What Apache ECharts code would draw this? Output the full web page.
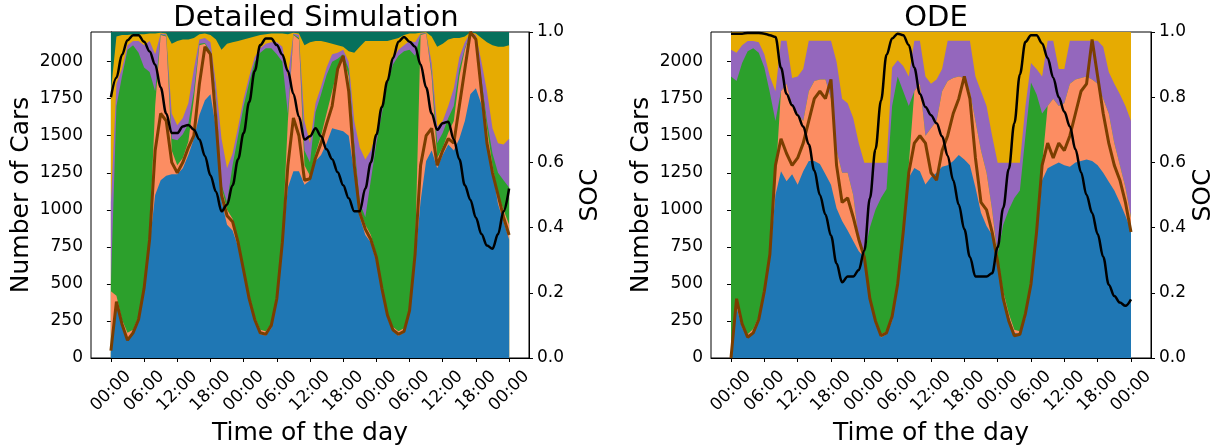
<!DOCTYPE html>
<html>
<head>
<meta charset="utf-8">
<title>Detailed Simulation vs ODE</title>
<script src="https://cdn.jsdelivr.net/npm/echarts@6/dist/echarts.min.js"></script>
<style>
  html, body { margin: 0; padding: 0; background: #fff; }
  #chart { width: 1215px; height: 446px; }
</style>
</head>
<body>
<div id="chart"></div>
<script>
// time axis in hours over three days
var HOURS = [0,1,2,3,4,5,6,7,8,9,10,11,12,13,14,15,16,17,18,19,20,21,22,23,24,
  25,26,27,28,29,30,31,32,33,34,35,36,37,38,39,40,41,42,43,44,45,46,47,48,
  49,50,51,52,53,54,55,56,57,58,59,60,61,62,63,64,65,66,67,68,69,70,71,72];
var TICK_HOURS = [0,6,12,18,24,30,36,42,48,54,60,66,72];
var TICK_LABELS = ['00:00','06:00','12:00','18:00','00:00','06:00','12:00','18:00','00:00','06:00','12:00','18:00','00:00'];
var CAR_TICKS = [0,250,500,750,1000,1250,1500,1750,2000];
var SOC_TICKS = [0,0.2,0.4,0.6,0.8,1.0];
var TOTAL_CARS = 2200;

// Detailed simulation: upper edge of each stacked band (cars)
var simBlue = [40,360,210,130,160,250,450,770,1100,1200,
  1230,1240,1240,1280,1370,1480,1640,1740,1780,1550,
  1060,900,860,750,570,390,250,160,150,200,
  380,760,1150,1260,1260,1170,1200,1330,1370,1450,
  1550,1540,1530,1500,1250,950,830,780,650,450,
  270,180,150,170,300,650,1060,1330,1400,1280,
  1370,1440,1400,1480,1600,1780,1820,1710,1480,1260,
  1040,920,800];
var simSalmon = [450,420,260,170,190,280,500,830,1700,2180,
  2170,1400,1300,1350,1460,1750,2110,2120,2050,1750,
  1150,1000,940,800,610,430,280,190,180,230,
  420,810,1600,2180,2150,1300,1230,1380,1500,1650,
  1800,1950,2040,1900,1400,1000,900,830,700,490,
  300,210,180,200,340,720,2180,2190,1900,1350,
  1420,1520,1600,1900,2080,2190,2150,1850,1550,1300,
  1100,1000,900];
var simGreen = [500,1700,1900,2080,2110,2060,1960,1930,1800,2185,
  2175,1480,1470,1510,1580,1800,2120,2125,2070,1770,
  1170,1050,1300,1500,1700,1860,2000,2060,2090,2090,
  2050,2000,1650,2185,2160,1400,1320,1660,1780,1910,
  2000,2020,2050,1950,1450,1050,950,1200,1450,1650,
  1850,1980,2040,2070,2080,2040,2185,2192,1920,1450,
  1520,1620,1700,1950,2090,2192,2160,1880,1600,1380,
  1250,1200,1150];
var simPurple = [1050,1850,1950,2110,2140,2140,2110,2140,2050,2190,
  2185,1650,1570,1620,1720,1950,2150,2160,2130,1850,
  1480,1280,1380,1560,1750,1900,2030,2090,2120,2130,
  2130,2100,1900,2190,2180,1600,1450,1720,1830,1960,
  2050,2060,2080,2000,1600,1420,1340,1400,1520,1700,
  1880,2020,2080,2110,2140,2130,2190,2195,1990,1560,
  1600,1700,1820,2030,2130,2195,2180,2000,1800,1550,
  1450,1440,1480];
var simYellow = [1800,2170,2180,2180,2185,2185,2185,2190,2190,2195,
  2190,2120,2140,2150,2150,2160,2185,2190,2180,2150,
  2080,2120,2130,2140,2150,2160,2170,2180,2185,2190,
  2190,2190,2185,2195,2190,2110,2130,2140,2140,2130,
  2120,2110,2100,2070,2060,2100,2140,2140,2140,2140,
  2140,2150,2160,2180,2190,2190,2195,2198,2170,2100,
  2120,2150,2160,2160,2170,2198,2190,2160,2130,2110,
  2100,2100,2110];
var simBrown = [50,380,230,120,170,260,470,800,1400,1650,
  1600,1320,1250,1320,1420,1500,1850,2100,2050,1600,
  1100,960,920,780,590,400,260,170,160,220,
  400,780,1300,1620,1500,1200,1210,1350,1450,1580,
  1700,1950,2040,1800,1300,980,870,800,680,470,
  290,190,160,180,320,700,1300,1500,1550,1300,
  1400,1480,1450,1700,1950,2200,2150,1800,1450,1250,
  1100,950,830];
var simSoc = [0.80,0.86,0.93,0.975,0.99,0.99,0.97,0.94,0.90,0.83,
  0.75,0.69,0.69,0.71,0.715,0.70,0.67,0.62,0.56,0.51,
  0.45,0.47,0.53,0.61,0.69,0.785,0.88,0.96,0.98,0.98,
  0.96,0.93,0.88,0.81,0.74,0.67,0.68,0.705,0.68,0.64,
  0.61,0.57,0.53,0.49,0.45,0.45,0.52,0.60,0.685,0.77,
  0.85,0.92,0.97,0.985,0.97,0.955,0.90,0.83,0.75,0.70,
  0.72,0.725,0.67,0.61,0.53,0.485,0.43,0.38,0.345,0.335,
  0.38,0.45,0.52];

// ODE model: upper edge of each stacked band (cars)
var odeBlue = [0,340,205,138,172,250,430,680,1100,1260,
  1193,1240,1170,1260,1330,1330,1310,1240,1170,1010,
  925,860,790,720,680,385,228,138,160,250,
  475,830,1216,1283,1260,1171,1220,1250,1290,1300,
  1330,1370,1340,1300,1150,980,890,830,650,420,
  280,170,160,270,480,800,1200,1280,1300,1320,
  1300,1290,1320,1330,1340,1330,1300,1250,1190,1130,
  1050,960,860];
var odeSalmon = [0,370,230,160,195,280,470,720,1200,1800,
  1850,1700,1650,1600,1800,1870,1880,1880,1750,1400,
  1250,1250,1100,800,690,410,250,160,180,280,
  510,880,1300,1800,1850,1500,1550,1600,1800,1870,
  1890,1900,1890,1800,1600,1400,1250,1000,680,450,
  300,190,180,300,520,850,1300,1700,1750,1700,
  1720,1850,1880,1890,1900,1880,1850,1750,1650,1450,
  1300,1150,950];
var odeGreen = [1900,1870,1990,2070,2090,2060,1960,1790,1600,1800,
  1850,1700,1650,1600,1800,1870,1880,1880,1750,1400,
  1250,1250,1100,800,700,880,1000,1080,1140,1700,
  1900,1800,1700,1800,1850,1500,1550,1600,1800,1870,
  1890,1900,1890,1800,1600,1400,1250,1000,700,900,
  1000,1080,1130,1500,1860,1780,1650,1700,1750,1700,
  1720,1850,1880,1890,1900,1880,1850,1750,1650,1450,
  1300,1150,950];
var odePurple = [2080,2060,2110,2140,2140,2130,2050,1900,1800,2141,
  2141,1890,1900,1950,2141,2141,2141,2141,2141,2000,
  1750,1720,1620,1450,1317,1317,1317,1317,1317,1960,
  2010,1970,1900,2141,2141,1900,1850,1880,1950,2141,
  2141,2141,2141,2141,1900,1800,1700,1500,1317,1317,
  1317,1317,1317,1700,1990,1950,1900,2141,2141,1950,
  1950,2141,2141,2141,2141,2141,2141,2100,1930,1850,
  1780,1700,1600];
var odeBrown = [0,400,230,140,170,260,450,700,1300,1480,
  1380,1300,1350,1450,1600,1750,1800,1750,1880,1300,
  1050,1080,950,800,680,400,250,150,170,280,
  500,850,1250,1450,1500,1450,1250,1200,1400,1500,
  1650,1750,1900,1750,1350,1050,1000,850,650,400,
  250,150,160,300,500,850,1300,1450,1350,1450,
  1400,1500,1650,1800,1850,2150,1900,1650,1450,1300,
  1200,1050,850];
var odeSoc = [0.995,0.995,0.995,0.997,0.997,0.997,0.995,0.99,0.985,0.89,
  0.81,0.775,0.745,0.71,0.655,0.575,0.50,0.44,0.375,0.29,
  0.232,0.25,0.25,0.27,0.33,0.49,0.64,0.79,0.93,0.98,
  0.995,0.99,0.96,0.89,0.81,0.77,0.745,0.72,0.68,0.62,
  0.545,0.47,0.395,0.31,0.25,0.25,0.25,0.26,0.34,0.46,
  0.58,0.72,0.87,0.97,0.99,0.99,0.965,0.92,0.86,0.80,
  0.755,0.71,0.64,0.57,0.50,0.445,0.38,0.31,0.225,0.19,
  0.17,0.16,0.18];

var COLORS = {
  blue: '#1f77b4', salmon: '#fc8d62', green: '#2ca02c', purple: '#9467bd',
  yellow: '#e6ab02', teal: '#06705c', brown: '#7b3e00', soc: '#000000'
};
var FONT = 'DejaVu Sans';
var TITLE_SIZE = 29;
var NAME_SIZE = 25;
var TICK_SIZE = 17;

function pairs(values) {
  return HOURS.map(function (h, i) { return [h, values[i]]; });
}

function band(values, color, gi) {
  return {
    type: 'line', xAxisIndex: gi, yAxisIndex: gi * 2,
    data: values ? pairs(values) : [[0, TOTAL_CARS], [72, TOTAL_CARS]],
    symbol: 'none', lineStyle: { width: 0 },
    areaStyle: { color: color, opacity: 1 },
    itemStyle: { color: color }, silent: true
  };
}

function curve(values, color, width, gi, onSoc) {
  return {
    type: 'line', xAxisIndex: gi, yAxisIndex: gi * 2 + (onSoc ? 1 : 0),
    data: pairs(values), symbol: 'none',
    smooth: onSoc ? 0.35 : false, smoothMonotone: 'x',
    lineStyle: { color: color, width: width }, itemStyle: { color: color },
    silent: true, z: 5
  };
}

function xAxisFor(gi) {
  return {
    type: 'value', gridIndex: gi, min: -3.6, max: 75.6,
    name: 'Time of the day', nameLocation: 'middle', nameGap: 57,
    nameTextStyle: { fontSize: NAME_SIZE, color: '#000', fontFamily: FONT },
    axisLine: { show: true, lineStyle: { color: '#000', width: 1 } },
    axisTick: { show: true, customValues: TICK_HOURS, length: 4, lineStyle: { color: '#000' } },
    axisLabel: {
      customValues: TICK_HOURS, rotate: 45, align: 'center', verticalAlign: 'middle',
      margin: 33, fontSize: TICK_SIZE, color: '#000', fontFamily: FONT,
      formatter: function (v) { return TICK_LABELS[TICK_HOURS.indexOf(v)]; }
    },
    splitLine: { show: false }
  };
}

function carAxis(gi) {
  return {
    type: 'value', gridIndex: gi, position: 'left', min: 0, max: TOTAL_CARS,
    name: 'Number of Cars', nameLocation: 'middle', nameGap: 57,
    nameTextStyle: { fontSize: NAME_SIZE, color: '#000', fontFamily: FONT },
    axisLine: { show: true, lineStyle: { color: '#000', width: 1 } },
    axisTick: { show: true, customValues: CAR_TICKS, length: 4, lineStyle: { color: '#000' } },
    axisLabel: {
      customValues: CAR_TICKS, margin: 8, fontSize: TICK_SIZE, color: '#000', fontFamily: FONT,
      formatter: function (v) { return String(v); }
    },
    splitLine: { show: false }
  };
}

function socAxis(gi, gap) {
  return {
    type: 'value', gridIndex: gi, position: 'right', min: 0, max: 1,
    name: 'SOC', nameLocation: 'middle', nameGap: gap,
    nameTextStyle: { fontSize: NAME_SIZE, color: '#000', fontFamily: FONT },
    axisLine: { show: true, lineStyle: { color: '#000', width: 1 } },
    axisTick: { show: true, customValues: SOC_TICKS, length: 4, lineStyle: { color: '#000' } },
    axisLabel: {
      customValues: SOC_TICKS, margin: 8, fontSize: TICK_SIZE, color: '#000', fontFamily: FONT,
      formatter: function (v) { return v.toFixed(1); }
    },
    splitLine: { show: false }
  };
}

var chart = echarts.init(document.getElementById('chart'), null, { renderer: 'canvas' });

var option = {
  animation: false,
  backgroundColor: '#fff',
  title: [
    { text: 'Detailed Simulation', left: 311, top: -1, textAlign: 'center',
      textStyle: { fontSize: TITLE_SIZE, fontWeight: 'normal', color: '#000', fontFamily: FONT } },
    { text: 'ODE', left: 931, top: -1, textAlign: 'center',
      textStyle: { fontSize: TITLE_SIZE, fontWeight: 'normal', color: '#000', fontFamily: FONT } }
  ],
  grid: [
    { left: 91, top: 32, width: 438, height: 326, show: true, borderColor: '#000', borderWidth: 1,
      outerBoundsMode: 'none', containLabel: false },
    { left: 711, top: 32, width: 440, height: 326, show: true, borderColor: '#000', borderWidth: 1,
      outerBoundsMode: 'none', containLabel: false }
  ],
  xAxis: [xAxisFor(0), xAxisFor(1)],
  yAxis: [carAxis(0), socAxis(0, 49), carAxis(1), socAxis(1, 40)],
  series: [
    band(null, COLORS.teal, 0),
    band(simYellow, COLORS.yellow, 0),
    band(simPurple, COLORS.purple, 0),
    band(simGreen, COLORS.green, 0),
    band(simSalmon, COLORS.salmon, 0),
    band(simBlue, COLORS.blue, 0),
    curve(simBrown, COLORS.brown, 3, 0, false),
    curve(simSoc, COLORS.soc, 2.5, 0, true),

    band(null, COLORS.yellow, 1),
    band(odePurple, COLORS.purple, 1),
    band(odeGreen, COLORS.green, 1),
    band(odeSalmon, COLORS.salmon, 1),
    band(odeBlue, COLORS.blue, 1),
    curve(odeBrown, COLORS.brown, 3, 1, false),
    curve(odeSoc, COLORS.soc, 2.5, 1, true)
  ]
};

chart.setOption(option);
</script>
</body>
</html>
